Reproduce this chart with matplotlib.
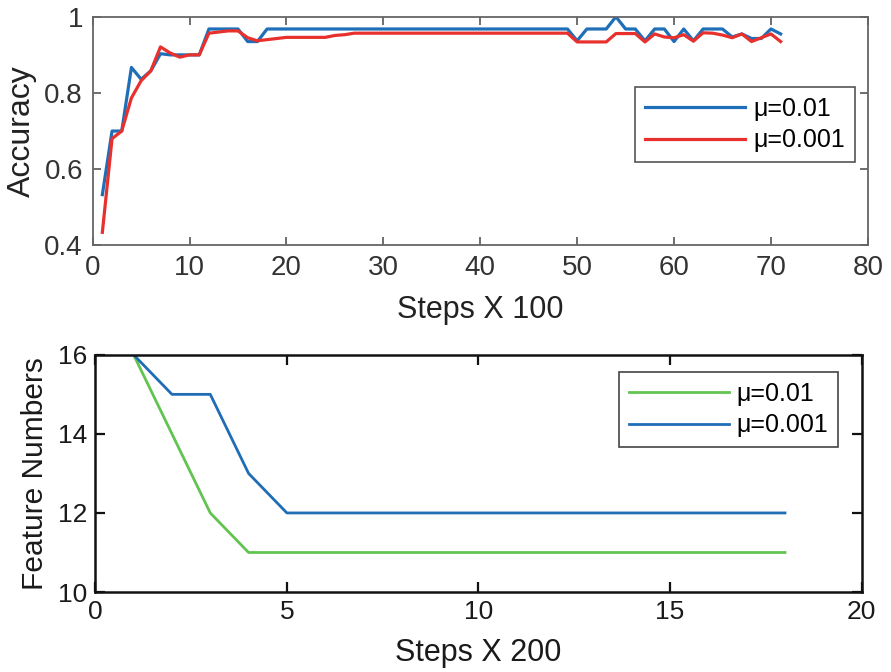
import matplotlib.pyplot as plt
import numpy as np

plt.rcParams['font.family'] = ['Liberation Sans', 'DejaVu Sans']

# top panel: accuracy per 100 steps
steps_acc = np.arange(1, 72)
acc_mu_01 = [0.533, 0.70, 0.70, 0.867, 0.836, 0.858, 0.903, 0.90, 0.90, 0.90,
             0.90, 0.968, 0.968, 0.968, 0.968, 0.935, 0.935, 0.968, 0.968, 0.968,
             0.968, 0.968, 0.968, 0.968, 0.968, 0.968, 0.968, 0.968, 0.968, 0.968,
             0.968, 0.968, 0.968, 0.968, 0.968, 0.968, 0.968, 0.968, 0.968, 0.968,
             0.968, 0.968, 0.968, 0.968, 0.968, 0.968, 0.968, 0.968, 0.968, 0.937,
             0.968, 0.968, 0.968, 1.0, 0.968, 0.968, 0.937, 0.968, 0.968, 0.935,
             0.968, 0.937, 0.968, 0.968, 0.968, 0.947, 0.955, 0.943, 0.943, 0.968,
             0.955]
acc_mu_001 = [0.434, 0.68, 0.70, 0.787, 0.832, 0.858, 0.921, 0.905, 0.894, 0.90,
              0.90, 0.957, 0.96, 0.963, 0.963, 0.945, 0.937, 0.94, 0.943, 0.946,
              0.946, 0.946, 0.946, 0.946, 0.951, 0.953, 0.957, 0.957, 0.957, 0.957,
              0.957, 0.957, 0.957, 0.957, 0.957, 0.957, 0.957, 0.957, 0.957, 0.957,
              0.957, 0.957, 0.957, 0.957, 0.957, 0.957, 0.957, 0.957, 0.957, 0.934,
              0.934, 0.934, 0.934, 0.956, 0.956, 0.956, 0.934, 0.955, 0.947, 0.945,
              0.953, 0.936, 0.958, 0.957, 0.952, 0.945, 0.955, 0.935, 0.945, 0.955,
              0.935]

# bottom panel: feature numbers per 200 steps
steps_feat = np.arange(1, 19)
feat_mu_01 = [16, 14, 12, 11, 11, 11, 11, 11, 11, 11, 11, 11, 11, 11, 11, 11, 11, 11]
feat_mu_001 = [16, 15, 15, 13, 12, 12, 12, 12, 12, 12, 12, 12, 12, 12, 12, 12, 12, 12]

fig = plt.figure(figsize=(8.91, 6.72), dpi=100)

# top axes
ax1 = fig.add_axes([0.104, 0.635, 0.870, 0.340])
ax1.plot(steps_acc, acc_mu_01, color='#1f6fb8', lw=2.3, label='μ=0.01')
ax1.plot(steps_acc, acc_mu_001, color='#e8312d', lw=2.3, label='μ=0.001')
ax1.set_xlim(0, 80)
ax1.set_ylim(0.4, 1)
ax1.set_xticks(range(0, 81, 10))
ax1.set_yticks([0.4, 0.6, 0.8, 1])
ax1.set_yticklabels(['0.4', '0.6', '0.8', '1'])
ax1.set_xlabel('Steps X 100', fontsize=22, color='#222222', labelpad=10)
ax1.set_ylabel('Accuracy', fontsize=23, color='#222222', labelpad=5)
for s in ax1.spines.values():
    s.set_color('#666666')
    s.set_linewidth(1.3)
ax1.tick_params(direction='in', top=True, right=True, length=6, width=1.2,
                color='#555555', labelsize=20, labelcolor='#333333', pad=7)
leg1 = ax1.legend(loc='upper right', bbox_to_anchor=(0.983, 0.693), borderaxespad=0,
                  fontsize=18, handlelength=4.0, fancybox=False, framealpha=1,
                  edgecolor='#555555', borderpad=0.4, labelspacing=0.3, handletextpad=0.3)
leg1.get_frame().set_linewidth(1.2)

# bottom axes
ax2 = fig.add_axes([0.107, 0.119, 0.860, 0.353])
ax2.plot(steps_feat, feat_mu_01, color='#62c450', lw=2.0, label='μ=0.01')
ax2.plot(steps_feat, feat_mu_001, color='#1f6db5', lw=2.0, label='μ=0.001')
ax2.set_xlim(0, 20)
ax2.set_ylim(10, 16)
ax2.set_xticks([0, 5, 10, 15, 20])
ax2.set_yticks([10, 12, 14, 16])
ax2.set_xlabel('Steps X 200', fontsize=22, color='#1a1a1a', labelpad=10)
ax2.set_ylabel('Feature Numbers', fontsize=21.5, color='#1a1a1a', labelpad=6)
for s in ax2.spines.values():
    s.set_color('#111111')
    s.set_linewidth(1.8)
ax2.tick_params(direction='in', top=True, right=True, length=7, width=1.6,
                color='#111111', labelsize=19, labelcolor='#1a1a1a', pad=6)
leg2 = ax2.legend(loc='upper right', bbox_to_anchor=(0.969, 0.928), borderaxespad=0,
                  fontsize=18, handlelength=4.0, fancybox=False, framealpha=1,
                  edgecolor='#444444', borderpad=0.4, labelspacing=0.3, handletextpad=0.3)
leg2.get_frame().set_linewidth(1.2)

fig.savefig('out.png', dpi=100)
